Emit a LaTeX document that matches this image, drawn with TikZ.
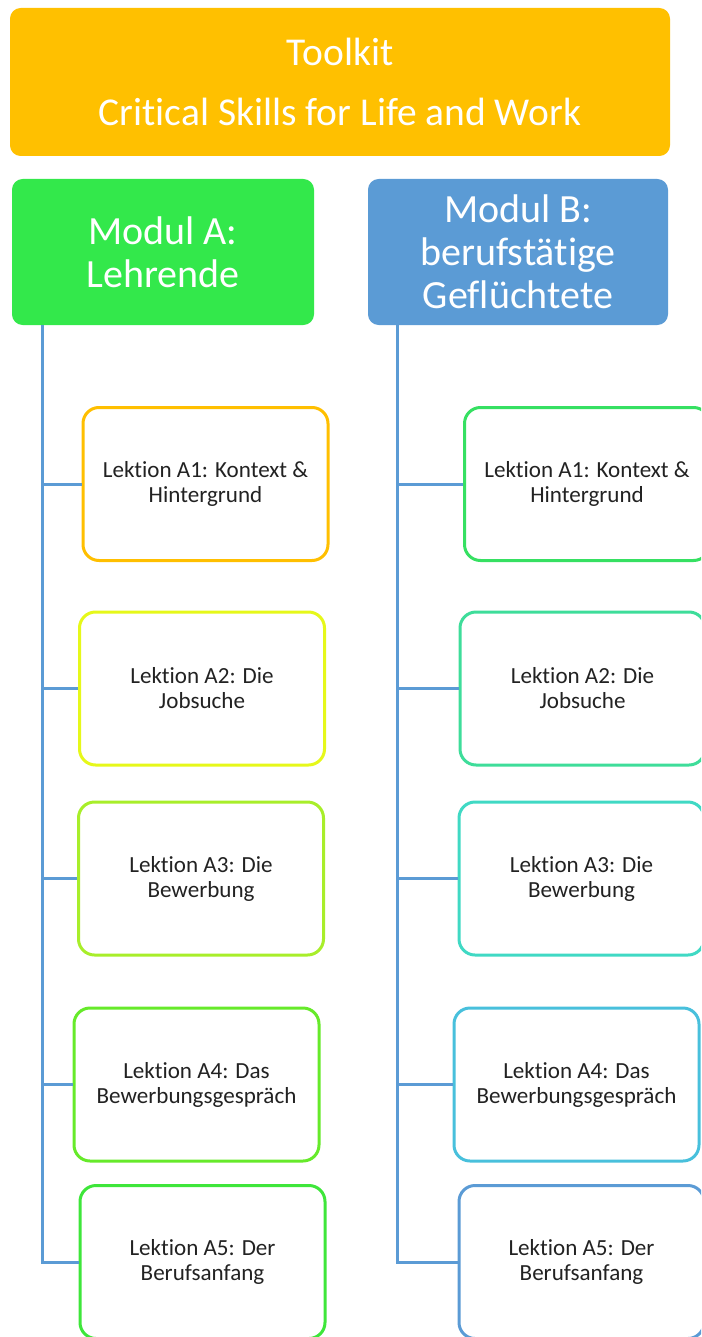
\documentclass[tikz,border=0pt]{standalone}
\usepackage{fontspec}
\setmainfont{Carlito}[Ligatures=NoCommon]
\usepackage{tikz}
\usetikzlibrary{positioning, calc}

\definecolor{gold}{HTML}{FFC000}
\definecolor{modAgreen}{HTML}{33E84B}
\definecolor{modBblue}{HTML}{5B9BD5}
\definecolor{lA1}{HTML}{FFBF00}
\definecolor{lA2}{HTML}{E6F81A}
\definecolor{lA3}{HTML}{A8EE2A}
\definecolor{lA4}{HTML}{66EA2A}
\definecolor{lA5}{HTML}{3EE63A}
\definecolor{lB1}{HTML}{36E062}
\definecolor{lB2}{HTML}{3EDD9A}
\definecolor{lB3}{HTML}{40D9C4}
\definecolor{lB4}{HTML}{48C0DC}
\definecolor{lB5}{HTML}{5B9BD5}
\definecolor{lesstext}{HTML}{222222}

\begin{document}
\begin{tikzpicture}[
    x=0.75pt, y=-0.75pt,
    headbox/.style={rectangle, rounded corners=8pt, text=white, align=center,
        inner sep=0pt},
    lektion/.style={rectangle, draw, line width=2.25pt, rounded corners=12pt,
        fill=white, text=lesstext, align=center, minimum width=183.75pt,
        minimum height=114.75pt, font={\fontsize{17.3}{18.75}\selectfont}},
    conn/.style={draw=modBblue, line width=2.25pt}
    ]
    \clip (0,0) rectangle (701,1337);

    % Toolkit
    \node[headbox, fill=gold, minimum width=495pt, minimum height=111pt,
        font={\fontsize{29.6}{45}\selectfont}] (toolkit) at (340,82)
        {Toolkit\\Critical Skills for Life and Work};

    % Modules
    \node[headbox, fill=modAgreen, minimum width=226.5pt, minimum height=109.5pt,
        font={\fontsize{30}{32.25}\selectfont}] (modA) at (163,252)
        {Modul A:\\Lehrende};
    \node[headbox, fill=modBblue, minimum width=225pt, minimum height=109.5pt,
        font={\fontsize{30}{32.25}\selectfont}] (modB) at (518,252)
        {Modul B:\\berufstätige\\Geflüchtete};

    % trunk lines
    \coordinate (trunkA) at (42,325);
    \coordinate (trunkB) at (397,325);

    % Modul A lessons
    \node[lektion, draw=lA1] (a1) at (205.5,484) {Lektion A1: Kontext \&\\Hintergrund};
    \node[lektion, draw=lA2] (a2) at (202,688.5) {Lektion A2: Die\\Jobsuche};
    \node[lektion, draw=lA3] (a3) at (201,878.5) {Lektion A3: Die\\Bewerbung};
    \node[lektion, draw=lA4] (a4) at (196.5,1084.5) {Lektion A4: Das\\Bewerbungsgespräch};
    \node[lektion, draw=lA5] (a5) at (202.5,1262) {Lektion A5: Der\\Berufsanfang};

    % Modul B lessons
    \node[lektion, draw=lB1] (b1) at (587,484) {Lektion A1: Kontext \&\\Hintergrund};
    \node[lektion, draw=lB2] (b2) at (582.5,688.5) {Lektion A2: Die\\Jobsuche};
    \node[lektion, draw=lB3] (b3) at (581.5,878.5) {Lektion A3: Die\\Bewerbung};
    \node[lektion, draw=lB4] (b4) at (576.5,1084.5) {Lektion A4: Das\\Bewerbungsgespräch};
    \node[lektion, draw=lB5] (b5) at (581.5,1262) {Lektion A5: Der\\Berufsanfang};

    % connectors A
    \draw[conn] (trunkA) |- (a5.west);
    \draw[conn] (a1.west -| trunkA) -- (a1.west);
    \draw[conn] (a2.west -| trunkA) -- (a2.west);
    \draw[conn] (a3.west -| trunkA) -- (a3.west);
    \draw[conn] (a4.west -| trunkA) -- (a4.west);

    % connectors B
    \draw[conn] (trunkB) |- (b5.west);
    \draw[conn] (b1.west -| trunkB) -- (b1.west);
    \draw[conn] (b2.west -| trunkB) -- (b2.west);
    \draw[conn] (b3.west -| trunkB) -- (b3.west);
    \draw[conn] (b4.west -| trunkB) -- (b4.west);

\end{tikzpicture}
\end{document}
